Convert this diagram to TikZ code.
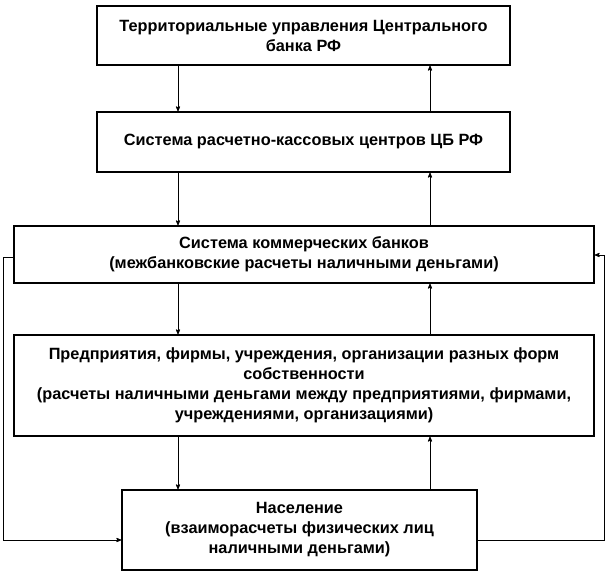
\documentclass[tikz,border=0pt]{standalone}
\usepackage{fontspec}
\setmainfont{Liberation Sans}
\usetikzlibrary{arrows, positioning}

\begin{document}
\begin{tikzpicture}[
        x=1pt, y=-1pt,
        ->,>=stealth',
        thick,
        block/.style = {
            draw,
            line width=1.4pt,
            rectangle,
            align=center,
            text centered,
            inner sep=0pt,
            font=\fontsize{16.3}{20}\selectfont\bfseries
        }
    ]
        \useasboundingbox (0,0) rectangle (607,577);
        \node [block, minimum width=413, minimum height=59]  (tu)   at (303.5,35.5)  {Территориальные управления Центрального\\банка РФ};
        \node [block, minimum width=413, minimum height=60]  (rkc)  at (303.5,142)   {Система расчетно-кассовых центров ЦБ РФ};
        \node [block, minimum width=580, minimum height=57]  (kb)   at (304,254.5)   {Система коммерческих банков\\(межбанковские расчеты наличными деньгами)};
        \node [block, minimum width=580, minimum height=101] (pred) at (304,385.5)   {Предприятия, фирмы, учреждения, организации разных форм\\собственности\\(расчеты наличными деньгами между предприятиями, фирмами,\\учреждениями, организациями)};
        \node [block, minimum width=355, minimum height=80]  (nas)  at (299.5,530)   {Население\\(взаиморасчеты физических лиц\\наличными деньгами)};

        \coordinate (l1) at (3,257);
        \coordinate (l2) at (3,540);
        \coordinate (r1) at (604,255);
        \coordinate (r2) at (604,540);

        \draw (tu.south -| 178,0)   -- (rkc.north -| 178,0);
        \draw (rkc.north -| 430,0)  -- (tu.south -| 430,0);
        \draw (rkc.south -| 178,0)  -- (kb.north -| 178,0);
        \draw (kb.north -| 430,0)   -- (rkc.south -| 430,0);
        \draw (kb.south -| 178,0)   -- (pred.north -| 178,0);
        \draw (pred.north -| 430,0) -- (kb.south -| 430,0);
        \draw (pred.south -| 178,0) -- (nas.north -| 178,0);
        \draw (nas.north -| 430,0)  -- (pred.south -| 430,0);

        \draw (kb.west |- l1) -- (l1) -- (l2) -- (nas.west |- l2);
        \draw (nas.east |- r2) -- (r2) -- (r1) -- (kb.east |- r1);
    \end{tikzpicture}
\end{document}
